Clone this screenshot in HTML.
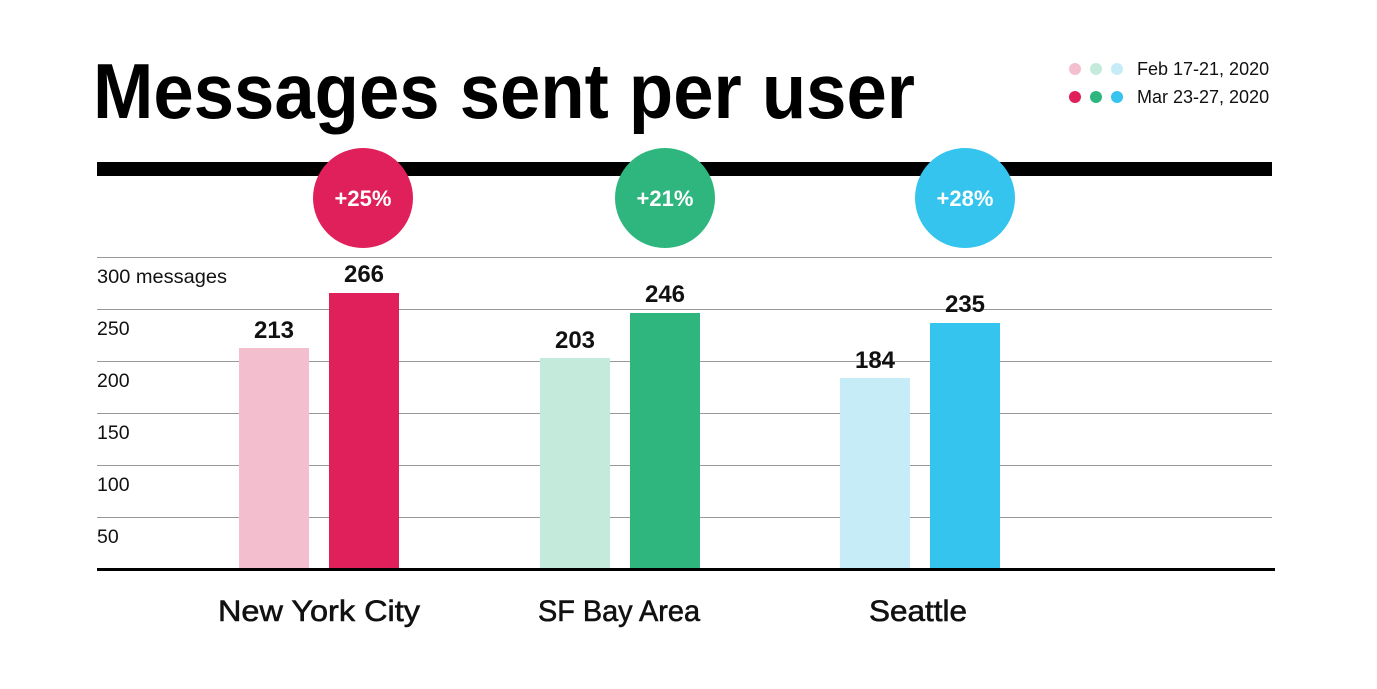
<!DOCTYPE html>
<html><head><style>
body{margin:0;background:#fff;}
svg text{font-family:"Liberation Sans",sans-serif;}
</style></head><body>
<svg width="1377" height="684" viewBox="0 0 1377 684" xmlns="http://www.w3.org/2000/svg">
<text x="93" y="118" font-size="78" font-weight="bold" fill="#000" textLength="822" lengthAdjust="spacingAndGlyphs">Messages sent per user</text>
<g font-size="18" fill="#111">
<circle cx="1075" cy="69" r="6" fill="#f3bfcf"/><circle cx="1096" cy="69" r="6" fill="#c4eadb"/><circle cx="1117" cy="69" r="6" fill="#c6ecf7"/>
<text x="1137" y="75">Feb 17-21, 2020</text>
<circle cx="1075" cy="97" r="6" fill="#e0205a"/><circle cx="1096" cy="97" r="6" fill="#2fb67f"/><circle cx="1117" cy="97" r="6" fill="#35c4ee"/>
<text x="1137" y="103">Mar 23-27, 2020</text>
</g>
<rect x="97" y="162" width="1175" height="14" fill="#000"/>
<g stroke="#999" stroke-width="1">
<line x1="97" x2="1272" y1="257.5" y2="257.5"/><line x1="97" x2="1272" y1="309.5" y2="309.5"/>
<line x1="97" x2="1272" y1="361.5" y2="361.5"/><line x1="97" x2="1272" y1="413.5" y2="413.5"/>
<line x1="97" x2="1272" y1="465.5" y2="465.5"/><line x1="97" x2="1272" y1="517.5" y2="517.5"/>
</g>
<g font-size="19.5" fill="#111">
<text x="97" y="283" textLength="130" lengthAdjust="spacingAndGlyphs">300 messages</text><text x="97" y="335">250</text><text x="97" y="387">200</text>
<text x="97" y="439">150</text><text x="97" y="491">100</text><text x="97" y="543">50</text>
</g>
<rect x="239" y="348" width="70" height="222" fill="#f3bfcf"/>
<rect x="329" y="293" width="70" height="277" fill="#e0205a"/>
<rect x="540" y="358" width="70" height="212" fill="#c4eadb"/>
<rect x="630" y="313" width="70" height="257" fill="#2fb67f"/>
<rect x="840" y="378" width="70" height="192" fill="#c6ecf7"/>
<rect x="930" y="323" width="70" height="247" fill="#35c4ee"/>
<rect x="97" y="568" width="1178" height="3" fill="#000"/>
<g font-size="24" font-weight="bold" fill="#111" text-anchor="middle">
<text x="274" y="338">213</text><text x="364" y="282">266</text>
<text x="575" y="348">203</text><text x="665" y="302">246</text>
<text x="875" y="368">184</text><text x="965" y="312">235</text>
</g>
<circle cx="363" cy="198" r="50" fill="#e0205a"/>
<circle cx="665" cy="198" r="50" fill="#2fb67f"/>
<circle cx="965" cy="198" r="50" fill="#35c4ee"/>
<g font-size="22" font-weight="bold" fill="#fff" text-anchor="middle">
<text x="363" y="206">+25%</text><text x="665" y="206">+21%</text><text x="965" y="206">+28%</text>
</g>
<g font-size="30" fill="#111" stroke="#111" stroke-width="0.6" text-anchor="middle">
<text x="319" y="621" textLength="202" lengthAdjust="spacingAndGlyphs">New York City</text>
<text x="619" y="621" textLength="162" lengthAdjust="spacingAndGlyphs">SF Bay Area</text>
<text x="918" y="621" textLength="98" lengthAdjust="spacingAndGlyphs">Seattle</text>
</g>
</svg>
</body></html>
